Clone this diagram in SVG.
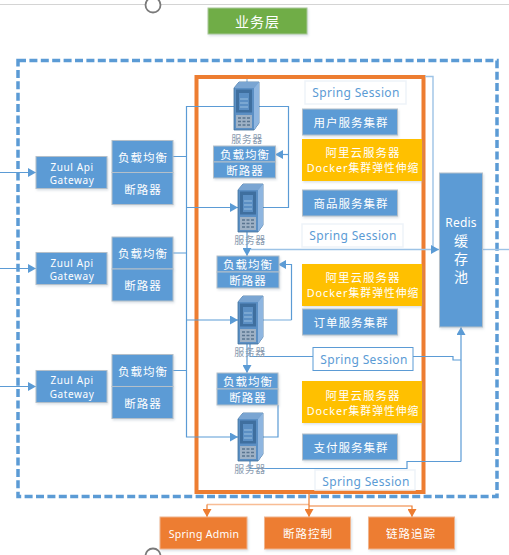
<svg xmlns="http://www.w3.org/2000/svg" width="509" height="555" viewBox="0 0 509 555">
<style>
text{font-family:"Noto Sans","Noto Sans CJK SC",sans-serif;text-anchor:middle;dominant-baseline:central;fill:#fff;font-size:11.5px;letter-spacing:1px}
.b{fill:#5b9bd5;stroke:#b4bfc9;stroke-width:1;filter:url(#sh)}
.y{fill:#ffc000;filter:url(#sh)}
.o{fill:#ed7d31;stroke:#f0b48c;stroke-width:1;filter:url(#sh)}
.ss{fill:#fff;stroke:#eef3f9;stroke-width:1.5}
.sst{fill:#5b9bd5;font-size:12px;letter-spacing:.35px}
.sv{fill:#8a9bb0;font-size:10px;letter-spacing:.5px}
.l{fill:none;stroke:#5b9bd5;stroke-width:1.2}
.ll{fill:none;stroke:#9dc3e6;stroke-width:1.4}
.ol{fill:none;stroke:#ed7d31;stroke-width:1.2}
.ll2{fill:none;stroke:#f8bd95;stroke-width:1.6}
.z{font-size:10px;letter-spacing:.6px}
.d{font-size:10.8px}
.r{font-size:14px;letter-spacing:0}
</style>
<defs>
<filter id="sh" x="-10%" y="-10%" width="125%" height="130%"><feDropShadow dx="1" dy="1.5" stdDeviation="1" flood-color="#9ab" flood-opacity=".35"/></filter>
<marker id="a" markerUnits="userSpaceOnUse" markerWidth="9" markerHeight="9" refX="8" refY="4.5" orient="auto"><path d="M0 0L8 4.5L0 9z" fill="#5b9bd5"/></marker>
<marker id="ao" markerUnits="userSpaceOnUse" markerWidth="9" markerHeight="9" refX="8" refY="4.5" orient="auto"><path d="M0 0L8 4.5L0 9z" fill="#ed7d31"/></marker>
<symbol id="srv" width="26" height="49" viewBox="0 0 26 49" overflow="visible">
<path d="M0 6L5 0H25V41L20 48H0z" fill="#5b8fc4" stroke="#41719c" stroke-width=".8"/>
<path d="M0 6L5 0H25L20 6z" fill="#7aa5d2"/>
<path d="M20 6L25 0V41L20 48z" fill="#8fb6e0"/>
<rect x="2" y="7.500" width="16" height="23" fill="#3f6f9f"/>
<rect x="5" y="11" width="10" height="17" fill="#5b8fc4"/>
<path d="M6 17H14M6 21H14M6 25H14" stroke="#a9cbe9" stroke-width=".8"/>
<rect x="2" y="33" width="16" height="13" fill="#9fb2c6"/>
<path d="M4 36H16M4 39.500H16M4 43H16" stroke="#5a7590" stroke-width="1.500" stroke-dasharray="3 1.500"/>
</symbol>
</defs>
<rect width="509" height="555" fill="#fff"/>
<g id="frame">
<path d="M0 4.500H509" stroke="#d4d4d4" stroke-width="1"/>
<circle cx="153" cy="5" r="7.500" fill="#fff" stroke="#7a7a7a" stroke-width="1.800"/>
<circle cx="153" cy="556" r="7.500" fill="#fff" stroke="#7a7a7a" stroke-width="1.800"/>
<rect x="18" y="60.500" width="479" height="436" fill="none" stroke="#5b9bd5" stroke-width="3.500" stroke-dasharray="8 3.400"/>
<rect x="196.500" y="77" width="227" height="415" fill="none" stroke="#ed7d31" stroke-width="4"/>
</g>
<g id="connectors">
<path class="l" marker-end="url(#a)" d="M0 172.500H36"/>
<path class="l" marker-end="url(#a)" d="M0 268.500H36"/>
<path class="l" marker-end="url(#a)" d="M0 386.500H36"/>
<path class="l" d="M173 156.500H186.500M173 253H186.500M173 370.500H186.500"/>
<path class="l" marker-end="url(#a)" d="M234 106.500H186.500V437H238"/>
<path class="l" marker-end="url(#a)" d="M186.500 207.500H238"/>
<path class="l" marker-end="url(#a)" d="M186.500 320H238"/>
<path class="l" d="M257 106.500H288.500V207.500H262"/>
<path class="l" marker-end="url(#a)" d="M288.500 154.500H275"/>
<path class="ll" d="M262 320H291.500"/>
<path class="l" marker-end="url(#a)" d="M291.500 320V264.500H278"/>
<path class="l" d="M262 437H278V405"/>
<path d="M270 373L278 389H270z" fill="#5b9bd5"/>
<path class="l" marker-end="url(#a)" d="M247 232V256"/>
<path class="l" marker-end="url(#a)" d="M247 343V373"/>
<path class="ll" d="M247 79V83M425 76.500H433V249.500"/>
<path class="ll" marker-end="url(#a)" d="M251 249.500H439"/>
<path class="ll" d="M482 249.500H509"/>
<path class="l" d="M250 343V356.500H313"/>
<path class="l" d="M413 356.500H453V360H461"/>
<path class="l" marker-end="url(#a)" d="M461 461.500V327"/>
<path class="l" d="M250 461V468.500H407V461.500H461"/>
<path class="ll2" d="M207 504.500H309"/>
<path class="ol" marker-end="url(#ao)" d="M207 504.500V517"/>
<path class="ol" marker-end="url(#ao)" d="M309 492V517"/>
<path class="ol" marker-end="url(#ao)" d="M309 506H412V517"/>
</g>
<g id="layer-title"><rect x="208" y="8" width="99" height="26" fill="#70ad47" stroke="#a9c79a" filter="url(#sh)"/><text x="257.500" y="21" style="font-size:14px">业务层</text></g>
<g id="gw1"><rect class="b" x="36" y="156.500" width="71" height="32"/><text class="z" x="72" y="166.500">Zuul Api</text><text class="z" x="72" y="179.500">Gateway</text></g>
<g id="gw2"><rect class="b" x="36" y="252.500" width="71" height="32"/><text class="z" x="72" y="262.500">Zuul Api</text><text class="z" x="72" y="275.500">Gateway</text></g>
<g id="gw3"><rect class="b" x="36" y="370.500" width="71" height="32"/><text class="z" x="72" y="379.500">Zuul Api</text><text class="z" x="72" y="393.500">Gateway</text></g>
<g id="lb1"><rect class="b" x="112" y="140.500" width="61" height="32"/><rect class="b" x="112" y="172.500" width="61" height="32"/><text x="143" y="157">负载均衡</text><text x="143" y="189">断路器</text></g>
<g id="lb2"><rect class="b" x="112" y="237" width="61" height="32"/><rect class="b" x="112" y="269" width="61" height="32"/><text x="143" y="253">负载均衡</text><text x="143" y="285">断路器</text></g>
<g id="lb3"><rect class="b" x="112" y="354.500" width="61" height="32"/><rect class="b" x="112" y="386.500" width="61" height="32"/><text x="143" y="371">负载均衡</text><text x="143" y="403">断路器</text></g>
<g id="server1"><use href="#srv" x="234" y="82"/><text class="sv" x="247" y="139">服务器</text></g>
<g id="server2"><use href="#srv" x="238" y="184"/><text class="sv" x="250" y="240">服务器</text></g>
<g id="server3"><use href="#srv" x="238" y="296"/><text class="sv" x="250" y="352">服务器</text></g>
<g id="server4"><use href="#srv" x="238" y="413"/><text class="sv" x="250" y="469">服务器</text></g>
<g id="inner-lb1"><rect class="b" x="213.500" y="146" width="62" height="16"/><rect class="b" x="213.500" y="162" width="62" height="16"/><text x="245" y="154">负载均衡</text><text x="245" y="170">断路器</text></g>
<g id="inner-lb2"><rect class="b" x="217" y="256" width="62" height="16"/><rect class="b" x="217" y="272" width="62" height="16"/><text x="248" y="264">负载均衡</text><text x="248" y="280">断路器</text></g>
<g id="inner-lb3"><rect class="b" x="217" y="373" width="61" height="16"/><rect class="b" x="217" y="389" width="61" height="16"/><text x="248" y="381">负载均衡</text><text x="248" y="397">断路器</text></g>
<g id="ss1"><rect class="ss" x="305" y="81" width="101" height="23"/><text class="sst" x="356" y="92.500">Spring Session</text></g>
<g id="ss2"><rect class="ss" x="302" y="224" width="101" height="23"/><text class="sst" x="353" y="235.500">Spring Session</text></g>
<g id="ss3"><rect x="313" y="347.500" width="100" height="23" fill="#fff" stroke="#5b9bd5"/><text class="sst" x="364" y="359.500">Spring Session</text></g>
<g id="ss4"><rect class="ss" x="315" y="470" width="100" height="20"/><text class="sst" x="366" y="481">Spring Session</text></g>
<g id="c1"><rect class="b" x="302.500" y="109" width="95" height="26"/><text x="351" y="122">用户服务集群</text></g>
<g id="y1"><rect class="y" x="302" y="139" width="120" height="42"/><text x="363" y="152">阿里云服务器</text><text class="d" x="363" y="167.500">Docker集群弹性伸缩</text></g>
<g id="c2"><rect class="b" x="302.500" y="190" width="95" height="26"/><text x="351" y="203">商品服务集群</text></g>
<g id="y2"><rect class="y" x="302" y="264" width="120" height="42"/><text x="363" y="277">阿里云服务器</text><text class="d" x="363" y="292.500">Docker集群弹性伸缩</text></g>
<g id="c3"><rect class="b" x="302.500" y="309" width="95" height="26"/><text x="351" y="322">订单服务集群</text></g>
<g id="y3"><rect class="y" x="302" y="381" width="120" height="42"/><text x="363" y="395">阿里云服务器</text><text class="d" x="363" y="410">Docker集群弹性伸缩</text></g>
<g id="c4"><rect class="b" x="302.500" y="434" width="95" height="26"/><text x="351" y="447">支付服务集群</text></g>
<g id="redis"><rect class="b" x="439.500" y="173" width="43" height="154"/><text x="461" y="222" style="font-size:12px;letter-spacing:.2px">Redis</text><text class="r" x="461" y="240">缓</text><text class="r" x="461" y="258">存</text><text class="r" x="461" y="276">池</text></g>
<g id="admin"><rect class="o" x="160" y="517" width="87" height="32"/><text x="204" y="533.500" style="font-size:10.500px;letter-spacing:.3px">Spring Admin</text></g>
<g id="breaker"><rect class="o" x="264.500" y="517" width="86" height="32"/><text x="308" y="533.500">断路控制</text></g>
<g id="trace"><rect class="o" x="368.500" y="517" width="86" height="32"/><text x="411" y="533.500">链路追踪</text></g>
</svg>
